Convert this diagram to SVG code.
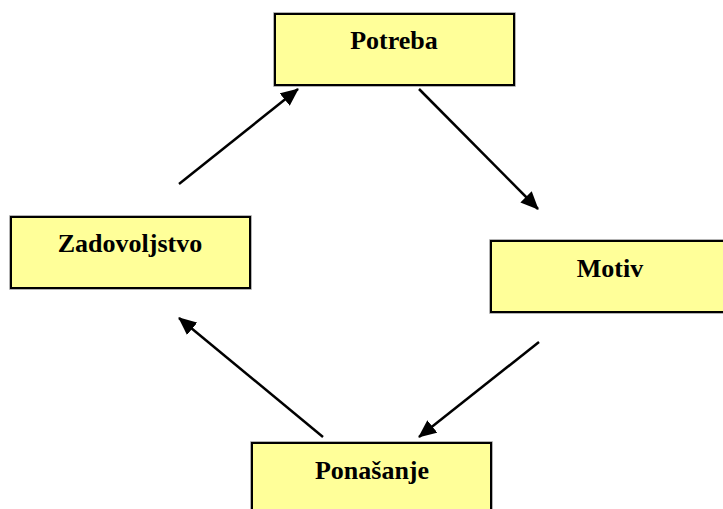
<svg xmlns="http://www.w3.org/2000/svg" width="723" height="509" viewBox="0 0 723 509">
  <style>
    .box-edge { fill: none; stroke: #9a9a9a; stroke-width: 3.5; }
    .box { fill: #ffff99; stroke: #000; stroke-width: 2; }
    .label { font-family: "Liberation Serif", "Times New Roman", serif; font-weight: bold; font-size: 26px; fill: #000; text-anchor: middle; }
    .link { stroke: #000; stroke-width: 2.5; fill: none; marker-end: url(#head); }
  </style>
  <defs>
    <marker id="head" markerUnits="userSpaceOnUse" markerWidth="18" markerHeight="16" viewBox="0 0 18 16" refX="17" refY="8" orient="auto">
      <path d="M0,0 L18,8 L0,16 Z" fill="#000"/>
    </marker>
  </defs>

  <rect width="723" height="509" fill="#fff"/>

  <g id="node-potreba">
    <rect class="box-edge" x="275" y="14" width="239" height="71"/>
    <rect class="box" x="275" y="14" width="239" height="71"/>
    <text class="label" x="394" y="49">Potreba</text>
  </g>

  <g id="node-motiv">
    <rect class="box-edge" x="491" y="241" width="239" height="71"/>
    <rect class="box" x="491" y="241" width="239" height="71"/>
    <text class="label" x="610" y="277">Motiv</text>
  </g>

  <g id="node-ponasanje">
    <rect class="box-edge" x="252" y="443" width="239" height="71"/>
    <rect class="box" x="252" y="443" width="239" height="71"/>
    <text class="label" x="372" y="479">Ponašanje</text>
  </g>

  <g id="node-zadovoljstvo">
    <rect class="box-edge" x="11" y="217" width="239" height="71"/>
    <rect class="box" x="11" y="217" width="239" height="71"/>
    <text class="label" x="130" y="252">Zadovoljstvo</text>
  </g>

  <g id="connectors">
    <line class="link" x1="179" y1="184" x2="298" y2="89"/>
    <line class="link" x1="419" y1="89" x2="538" y2="209"/>
    <line class="link" x1="539" y1="342" x2="419" y2="437"/>
    <line class="link" x1="323" y1="437" x2="179" y2="318"/>
  </g>
</svg>
